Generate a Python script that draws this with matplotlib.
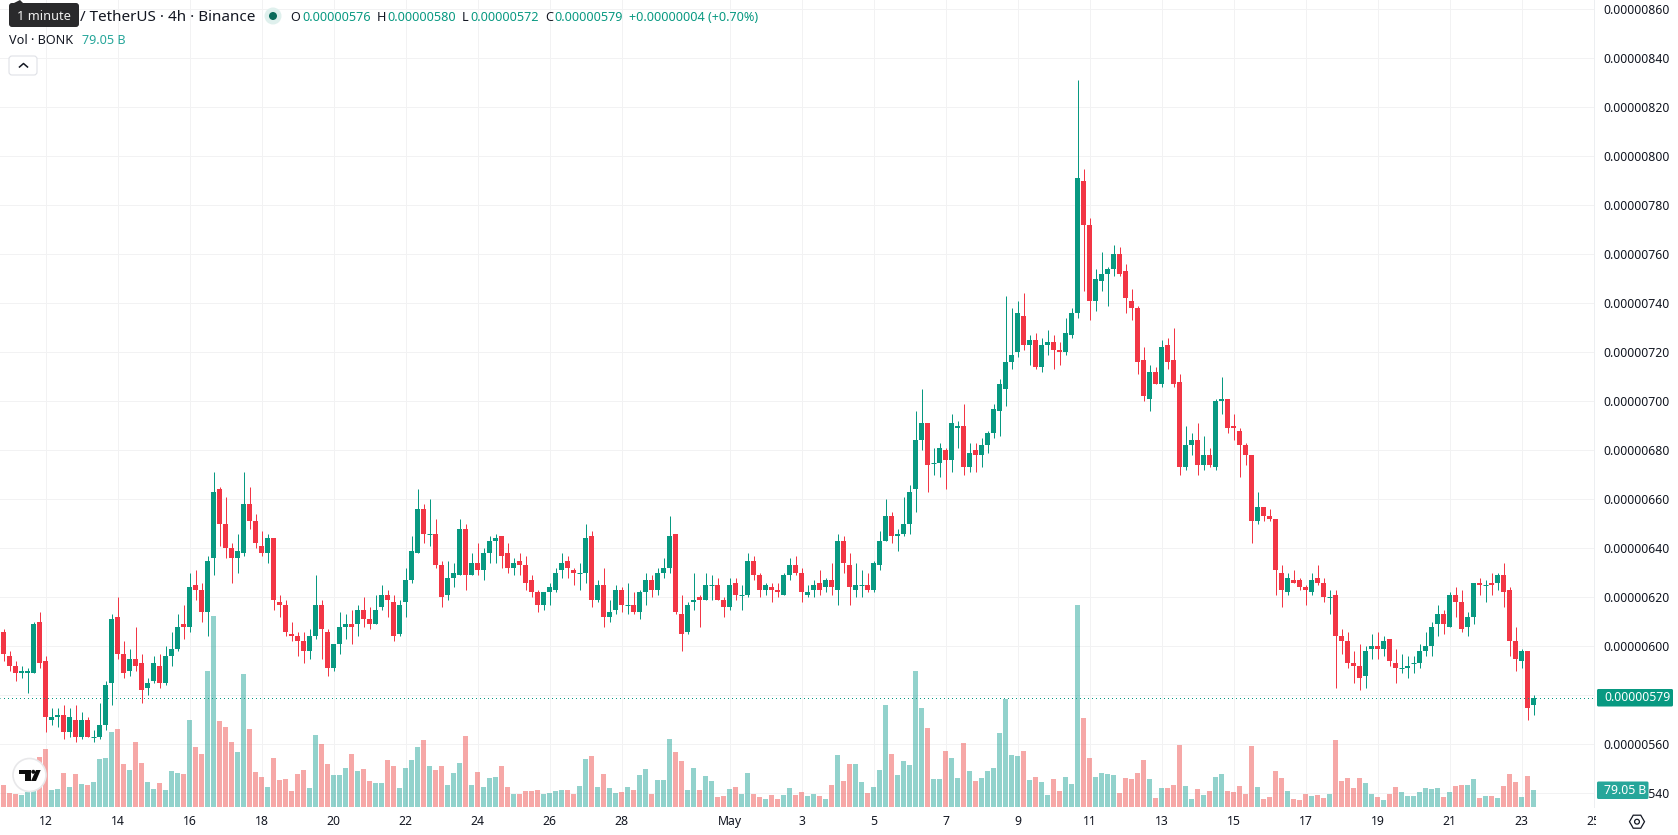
"""BONK / TetherUS 4h candlesticks with a volume overlay, drawn in a trading terminal look."""

from __future__ import annotations

import matplotlib

matplotlib.use("Agg")
import matplotlib.pyplot as plt
import numpy as np
from matplotlib.patches import Circle, FancyBboxPatch, Polygon, RegularPolygon
from matplotlib.transforms import Bbox

# prices in units of 1e-8 USDT, one entry per 4h bar
opens = [
    606, 596, 592, 589, 589, 589, 610, 594, 570, 571,
    572, 565, 570, 563, 570, 563, 563, 568, 585, 612,
    597, 590, 595, 593, 583, 586, 592, 585, 596, 599,
    609, 608, 625, 623, 614, 636, 664, 650, 640, 636,
    638, 658, 651, 641, 638, 644, 618, 617, 605, 604,
    602, 598, 604, 617, 606, 591, 601, 608, 609, 609,
    615, 611, 609, 616, 621, 618, 605, 618, 627, 638,
    656, 646, 646, 633, 621, 628, 629, 648, 629, 634,
    631, 638, 643, 645, 638, 632, 635, 633, 627, 622,
    617, 622, 623, 631, 635, 631, 630, 630, 645, 619,
    625, 612, 615, 623, 617, 617, 614, 622, 627, 623,
    630, 632, 646, 613, 606, 618, 620, 619, 625, 625,
    619, 616, 626, 621, 621, 635, 629, 623, 624, 623,
    621, 629, 633, 630, 621, 623, 626, 624, 627, 623,
    643, 633, 623, 625, 625, 623, 633, 643, 653, 645,
    646, 650, 664, 684, 691, 675, 675, 680, 676, 689,
    690, 673, 680, 678, 682, 687, 696, 705, 716, 720,
    735, 723, 725, 714, 723, 724, 721, 720, 727, 736,
    790, 772, 741, 749, 752, 754, 760, 753, 741, 738,
    717, 701, 712, 707, 723, 717, 708, 673, 682, 684,
    674, 678, 673, 700, 701, 690, 688, 682, 678, 651,
    657, 653, 652, 630, 622, 627, 627, 624, 622, 628,
    626, 620, 621, 604, 602, 593, 592, 588, 599, 600,
    599, 603, 593, 591, 591, 593, 593, 598, 600, 609,
    613, 608, 621, 618, 608, 612, 626, 625, 626, 626,
    629, 623, 602, 594, 598, 576,
]
highs = [
    607, 598, 594, 592, 591, 610, 614, 596, 575, 575,
    576, 575, 576, 573, 571, 566, 577, 586, 613, 620,
    602, 599, 608, 597, 587, 596, 597, 600, 606, 613,
    617, 630, 631, 626, 637, 671, 665, 661, 642, 646,
    671, 665, 654, 647, 646, 644, 621, 619, 610, 606,
    606, 607, 629, 619, 607, 601, 614, 613, 615, 617,
    620, 616, 621, 625, 623, 621, 619, 632, 645, 664,
    658, 660, 652, 635, 635, 634, 652, 650, 638, 642,
    640, 645, 646, 645, 642, 636, 638, 637, 629, 623,
    622, 626, 632, 638, 637, 632, 634, 650, 647, 627,
    632, 619, 625, 624, 626, 622, 623, 630, 629, 632,
    636, 653, 646, 621, 618, 630, 621, 630, 629, 628,
    620, 628, 628, 625, 638, 637, 630, 626, 626, 626,
    630, 636, 637, 632, 625, 627, 631, 628, 634, 646,
    645, 638, 634, 631, 630, 635, 647, 660, 655, 648,
    661, 666, 696, 705, 691, 681, 683, 681, 695, 692,
    699, 683, 683, 685, 688, 699, 709, 743, 738, 741,
    744, 727, 728, 726, 729, 727, 724, 734, 738, 831,
    795, 775, 754, 761, 755, 764, 763, 756, 746, 739,
    722, 715, 714, 725, 726, 730, 711, 690, 687, 691,
    686, 681, 701, 710, 701, 695, 689, 683, 678, 663,
    657, 656, 652, 633, 630, 631, 628, 625, 630, 633,
    628, 623, 623, 607, 606, 598, 601, 600, 605, 606,
    604, 603, 599, 597, 596, 596, 601, 606, 610, 617,
    615, 622, 624, 623, 614, 626, 628, 627, 630, 630,
    634, 624, 608, 599, 598, 580,
]
lows = [
    594, 590, 586, 587, 581, 589, 591, 565, 568, 567,
    562, 563, 561, 562, 563, 561, 562, 566, 576, 595,
    587, 588, 590, 577, 580, 585, 583, 584, 592, 598,
    603, 606, 619, 610, 604, 629, 641, 636, 626, 630,
    637, 648, 640, 637, 634, 615, 612, 604, 602, 596,
    593, 595, 603, 595, 588, 590, 597, 603, 601, 604,
    608, 607, 609, 615, 612, 602, 604, 612, 626, 638,
    642, 641, 632, 616, 619, 624, 629, 623, 629, 629,
    627, 634, 634, 632, 630, 629, 629, 623, 620, 614,
    615, 617, 622, 628, 628, 625, 623, 626, 616, 618,
    608, 610, 613, 614, 613, 613, 611, 617, 620, 621,
    628, 630, 613, 598, 605, 615, 608, 619, 619, 619,
    612, 615, 619, 615, 620, 627, 620, 621, 618, 620,
    621, 627, 629, 618, 620, 620, 621, 622, 621, 617,
    630, 617, 620, 620, 622, 622, 631, 643, 642, 639,
    645, 646, 655, 680, 663, 670, 669, 664, 671, 681,
    670, 671, 671, 673, 679, 685, 686, 698, 713, 718,
    721, 715, 713, 712, 719, 713, 715, 719, 726, 734,
    745, 733, 737, 745, 739, 751, 751, 736, 733, 711,
    700, 696, 707, 706, 713, 706, 670, 672, 678, 670,
    672, 673, 672, 695, 687, 684, 669, 674, 642, 650,
    651, 651, 621, 616, 621, 626, 623, 617, 621, 625,
    618, 613, 583, 597, 591, 585, 582, 583, 595, 595,
    596, 592, 585, 589, 587, 589, 591, 596, 596, 604,
    605, 608, 612, 606, 604, 609, 621, 618, 621, 623,
    616, 596, 590, 591, 570, 572,
]
closes = [
    597, 592, 589, 590, 590, 609, 593, 571, 571, 572,
    565, 571, 563, 570, 563, 563, 568, 584, 611, 597,
    589, 595, 592, 582, 585, 593, 585, 596, 599, 608,
    608, 624, 623, 614, 635, 663, 650, 640, 636, 639,
    658, 651, 642, 638, 644, 619, 617, 606, 604, 602,
    598, 604, 617, 607, 591, 601, 608, 609, 608, 615,
    611, 609, 615, 621, 619, 604, 617, 627, 639, 656,
    646, 646, 633, 620, 628, 630, 648, 629, 634, 631,
    638, 643, 644, 637, 632, 634, 633, 626, 622, 617,
    622, 624, 630, 634, 632, 630, 630, 644, 619, 625,
    612, 614, 623, 617, 617, 614, 622, 627, 623, 630,
    632, 645, 614, 605, 617, 619, 619, 625, 625, 619,
    616, 625, 621, 621, 635, 629, 623, 625, 623, 622,
    629, 633, 630, 622, 622, 625, 623, 627, 624, 643,
    634, 624, 625, 625, 623, 634, 643, 653, 645, 646,
    650, 663, 684, 691, 674, 675, 681, 676, 691, 690,
    673, 679, 678, 682, 687, 697, 707, 716, 719, 736,
    723, 725, 714, 723, 724, 721, 720, 728, 736, 791,
    772, 741, 750, 752, 754, 760, 752, 742, 738, 716,
    702, 712, 707, 722, 716, 707, 673, 682, 684, 674,
    678, 674, 700, 701, 689, 689, 682, 678, 651, 657,
    653, 652, 631, 623, 628, 626, 624, 623, 627, 626,
    620, 620, 604, 602, 593, 592, 587, 598, 600, 599,
    602, 594, 591, 591, 592, 593, 598, 600, 608, 613,
    609, 621, 618, 607, 612, 626, 625, 625, 625, 629,
    622, 602, 595, 598, 575, 579,
]
# volume in billions of BONK
volumes = [
    102, 65, 60, 56, 70, 74, 232, 270, 79, 84,
    158, 93, 153, 107, 102, 116, 223, 228, 349, 363,
    200, 172, 302, 205, 116, 84, 112, 79, 167, 158,
    153, 405, 279, 246, 632, 888, 400, 372, 302, 256,
    618, 363, 163, 140, 93, 228, 126, 130, 74, 153,
    172, 88, 335, 293, 200, 149, 149, 181, 246, 167,
    177, 121, 112, 112, 219, 191, 88, 181, 219, 279,
    312, 191, 172, 191, 102, 158, 205, 330, 102, 163,
    93, 135, 140, 191, 93, 60, 60, 74, 74, 79,
    60, 65, 74, 79, 79, 60, 98, 223, 237, 93,
    153, 88, 65, 70, 93, 79, 149, 177, 60, 126,
    126, 316, 256, 214, 79, 181, 79, 144, 121, 47,
    51, 84, 93, 60, 158, 60, 47, 37, 56, 37,
    56, 88, 56, 70, 51, 60, 51, 37, 102, 242,
    121, 200, 200, 116, 65, 93, 172, 474, 246, 149,
    214, 195, 632, 460, 367, 130, 130, 260, 228, 135,
    298, 167, 121, 135, 167, 181, 344, 502, 242, 237,
    260, 126, 140, 116, 56, 130, 74, 140, 107, 939,
    414, 228, 140, 158, 153, 149, 65, 135, 130, 158,
    219, 130, 42, 88, 88, 102, 288, 98, 37, 84,
    56, 74, 140, 153, 74, 70, 98, 60, 284, 93,
    37, 47, 167, 135, 74, 37, 33, 60, 51, 56,
    42, 60, 312, 121, 135, 88, 135, 112, 60, 47,
    33, 60, 93, 70, 51, 51, 70, 88, 84, 88,
    47, 70, 98, 102, 102, 130, 42, 51, 51, 42,
    98, 153, 116, 47, 144, 79.05,
]
date_ticks = [7, 19, 31, 43, 55, 67, 79, 91, 103, 121, 133, 145, 157, 169, 181,
              193, 205, 217, 229, 241, 253, 265]
date_labels = ["12", "14", "16", "18", "20", "22", "24", "26", "28", "May", "3", "5", "7", "9",
               "11", "13", "15", "17", "19", "21", "23", "25"]
price_ticks = list(range(540, 861, 20))
header_values = ["0.00000576", "0.00000580", "0.00000572", "0.00000579"]
header_letters = ["O", "H", "L", "C"]
header_change = "+0.00000004 (+0.70%)"
last_price = "0.00000579"
last_volume = "79.05 B"

WIDTH, HEIGHT = 1678, 835
PANE_W, PANE_H = 1593.5, 807
BAR_STEP = 6.0  # pixels per candle
GREEN = "#089981"
RED = "#F23645"
GRID = "#f2f2f3"
INK = "#131722"
FONT = "Noto Sans"


def add_pane(zorder):
    ax = fig.add_axes([0, 1 - PANE_H / HEIGHT, PANE_W / WIDTH, PANE_H / HEIGHT], zorder=zorder)
    ax.set_xlim(-3.5 / BAR_STEP, (PANE_W - 3.5) / BAR_STEP)
    for side in ("top", "left", "bottom"):
        ax.spines[side].set_visible(False)
    return ax


plt.rcParams["font.family"] = [FONT, "DejaVu Sans"]
fig = plt.figure(figsize=(WIDTH / 100, HEIGHT / 100), dpi=100)

x = np.arange(len(opens))
o, h, l, c = map(np.array, (opens, highs, lows, closes))
up = c >= o
colors = np.where(up, GREEN, RED)

# price pane: grid, ticks and candles
ax = add_pane(1)
ax.set_ylim(534.4, 863.8)
ax.spines["right"].set_color("#eceef1")
ax.spines["right"].set_linewidth(0.72)
ax.yaxis.tick_right()
ax.set_yticks(price_ticks)
ax.set_yticklabels([f"{p / 1e8:.8f}" for p in price_ticks])
ax.set_xticks(date_ticks)
ax.set_xticklabels(date_labels)
ax.tick_params(axis="both", length=0, labelsize=8.8, labelcolor=INK)
ax.tick_params(axis="y", pad=7.2)
ax.tick_params(axis="x", pad=5.5)
ax.grid(True, color=GRID, lw=0.72)
ax.set_axisbelow(True)
for tick_text in ax.get_xticklabels():
    # the last date runs under the price scale and gets cut there
    tick_text.set_clip_box(Bbox([[0, 0], [1596, HEIGHT]]))
    tick_text.set_clip_on(True)
    if tick_text.get_text() == "May":
        tick_text.set_fontweight("bold")

ax.vlines(x, l, h, colors=colors, lw=0.72)
flat = c == o
ax.bar(x[~flat], np.abs(c - o)[~flat], bottom=np.minimum(o, c)[~flat], width=5 / BAR_STEP,
       color=colors[~flat], linewidth=0)
ax.hlines(c[flat], x[flat] - 2.5 / BAR_STEP, x[flat] + 2.5 / BAR_STEP, colors=colors[flat], lw=0.72)

# volume pane shares the same bars, 4.65 B per pixel
ax_vol = add_pane(2)
ax_vol.patch.set_visible(False)
ax_vol.spines["right"].set_visible(False)
ax_vol.set_ylim(0, PANE_H * 4.65)
ax_vol.set_xticks([])
ax_vol.set_yticks([])
ax_vol.bar(x, volumes, width=5 / BAR_STEP, linewidth=0,
           color=np.where(up, "#26a69a", "#ef5350"), alpha=0.5)

# everything else sits on a pixel-sized overlay
top = fig.add_axes([0, 0, 1, 1], zorder=3)
top.set_xlim(0, WIDTH)
top.set_ylim(HEIGHT, 0)
top.axis("off")

# half-pixel dash offset keeps each dot on a single pixel once the line is snapped
price_line, = top.plot([0, 1], [closes[-1], closes[-1]], transform=ax.get_yaxis_transform(), color=GREEN,
                       lw=0.72, ls=(0.5, (1, 3)), dash_capstyle="butt")
price_line.set_clip_box(ax.bbox)
price_line.set_snap(True)


def label(px, py, text, color=INK, size=10.0, ha="left", **kwargs):
    top.text(px, py, text, color=color, fontsize=size, ha=ha, va="center", **kwargs)


# legend rows
label(80, 17.5, "/ TetherUS · 4h · Binance", size=10.95)
top.add_patch(Circle((273, 16), 8.5, color="#dff0ed", lw=0))
top.add_patch(Circle((273, 16), 4, color="#0b6b5b", lw=0))
for px, letter, value_x, value in zip((290, 377, 462, 545), header_letters, (302, 387, 470, 554), header_values):
    label(px, 17.5, letter, size=9.1)
    label(value_x, 17.5, value, color=GREEN, size=9.1)
label(629, 17.5, header_change, color=GREEN, size=9.1)
label(9, 41, "Vol · BONK", size=9.1)
label(82, 41, last_volume, color="#26a69a", size=9.1)

# hover tooltip
top.add_patch(FancyBboxPatch((11, 5), 66, 20, boxstyle="round,pad=2,rounding_size=3", fc="#2a2a2c", ec="none"))
top.add_patch(Polygon([(14, 3), (20, 0), (23, 3)], fc="#2a2a2c", ec="none"))
label(44, 16.8, "1 minute", color="#f0f0f0", size=9.2, ha="center")

# collapse button
top.add_patch(FancyBboxPatch((11, 58), 24, 15, boxstyle="round,pad=2,rounding_size=3", fc="white",
                             ec="#dfe1e6", lw=0.8))
top.plot([19.5, 23.5, 27.5], [67, 63.5, 67], color=INK, lw=1.1)

# watermark badge
top.add_patch(Circle((29.5, 775), 16.5, fc="white", ec="#e8e8ea", lw=1.2))
top.add_patch(Polygon([(19, 770), (30.7, 770), (30.7, 781), (25, 781), (25, 774), (19, 774)], fc="#0d0d0d", ec="none"))
top.add_patch(Circle((33.3, 771.8), 2, fc="#0d0d0d", ec="none"))
top.add_patch(Polygon([(36, 770), (40.7, 770), (36, 781), (31, 781)], fc="#0d0d0d", ec="none"))

# settings glyph below the price scale
top.add_patch(RegularPolygon((1637, 821.7), 6, radius=7.5, orientation=np.pi / 6, fc="none", ec=INK, lw=0.9))
top.add_patch(Circle((1637, 821.7), 2.4, fc="none", ec=INK, lw=0.9))

# last price and volume tags on the scale
top.add_patch(FancyBboxPatch((1598, 690), 74, 15.5, boxstyle="round,pad=1,rounding_size=1.5", fc=GREEN, ec="none"))
label(1604, 697.7, last_price, color="white", size=8.8)
top.add_patch(FancyBboxPatch((1598, 782.5), 49.5, 15.5, boxstyle="round,pad=1,rounding_size=1.5", fc="#26a69a", ec="none"))
label(1604, 790.3, last_volume, color="white", size=8.8)

fig.savefig("out.png", dpi=100)
